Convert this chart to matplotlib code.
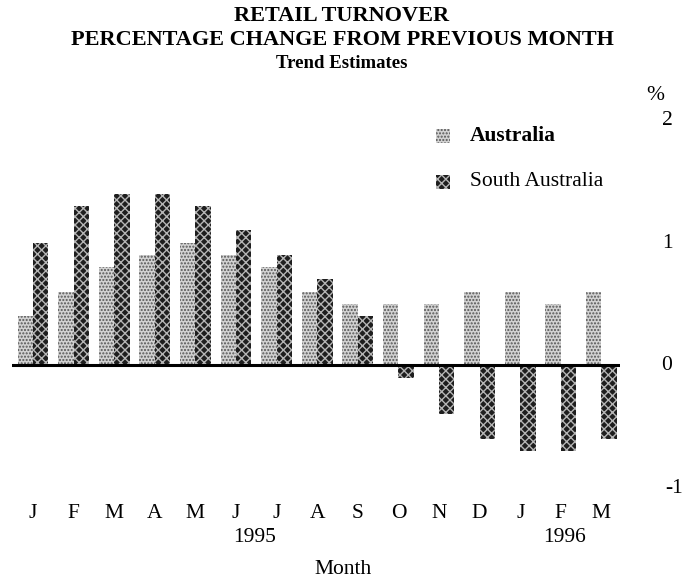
import matplotlib
matplotlib.use("Agg")
import matplotlib.pyplot as plt
import numpy as np
from matplotlib.patches import Rectangle

months = ["J", "F", "M", "A", "M", "J", "J", "A", "S", "O", "N", "D", "J", "F", "M"]
australia = [0.4, 0.6, 0.8, 0.9, 1.0, 0.9, 0.8, 0.6, 0.5, 0.5, 0.5, 0.6, 0.6, 0.5, 0.6]
south_australia = [1.0, 1.3, 1.4, 1.4, 1.3, 1.1, 0.9, 0.7, 0.4, -0.1, -0.4, -0.6, -0.7, -0.7, -0.6]
y_ticks = [2, 1, 0, -1]
year_labels = [("1995", 5.45), ("1996", 13.1)]

W, H = 685, 577
plt.rcParams['font.family'] = ['Liberation Serif', 'DejaVu Serif']
plt.rcParams['hatch.linewidth'] = 1.0

fig = plt.figure(figsize=(W / 100, H / 100), dpi=100)

def fx(px):
    return px / W

def fy(py):
    return 1 - py / H

ax = fig.add_axes([fx(12), fy(488), fx(620) - fx(12), fy(120) - fy(488)])
ax.set_xlim(-0.517, 14.46)
ax.set_ylim(-1, 2)
ax.axis('off')

x = np.arange(len(months))
w = 0.38
aus_style = dict(facecolor='#d2d2d2', edgecolor='#555555', hatch='.....', linewidth=0)
sa_style = dict(facecolor='#1e1e1e', edgecolor='#b5b5b5', hatch='xxxx', linewidth=0)
ax.bar(x - 0.19, australia, width=w, **aus_style)
ax.bar(x + 0.19, south_australia, width=w, **sa_style)
ax.axhline(0, color='black', linewidth=2.2)

FS = 15.5
# month labels
for i, m in enumerate(months):
    fig.text(fx(33 + 40.6 * i), fy(513), m, ha='center', va='center', fontsize=FS)
for lab, pos in year_labels:
    fig.text(fx(33 + 40.6 * pos), fy(537), lab, ha='center', va='center', fontsize=FS)
fig.text(fx(343), fy(569), "Month", ha='center', va='center', fontsize=FS)

# right-side y labels
for v in y_ticks:
    ypix = 366 - 122.7 * v
    xpix = 674 if v < 0 else 667
    fig.text(fx(xpix), fy(ypix), str(v), ha='center', va='center', fontsize=FS)
fig.text(fx(655), fy(96), "%", ha='center', va='center', fontsize=FS)

# title
fig.text(fx(342), fy(16), "RETAIL TURNOVER", ha='center', va='center', fontsize=16, fontweight='bold')
fig.text(fx(342), fy(40), "PERCENTAGE CHANGE FROM PREVIOUS MONTH", ha='center', va='center', fontsize=16, fontweight='bold')
fig.text(fx(342), fy(63), "Trend Estimates", ha='center', va='center', fontsize=13.5, fontweight='bold')

# legend
for ypix, label, style, weight in [(136, "Australia", aus_style, 'bold'), (182, "South Australia", sa_style, 'normal')]:
    fig.patches.append(Rectangle((fx(436), fy(ypix + 7)), fx(14), 14 / H, transform=fig.transFigure, **style))
    fig.text(fx(470), fy(ypix), label, ha='left', va='center', fontsize=FS, fontweight=weight)

fig.savefig("out.png", dpi=100)
